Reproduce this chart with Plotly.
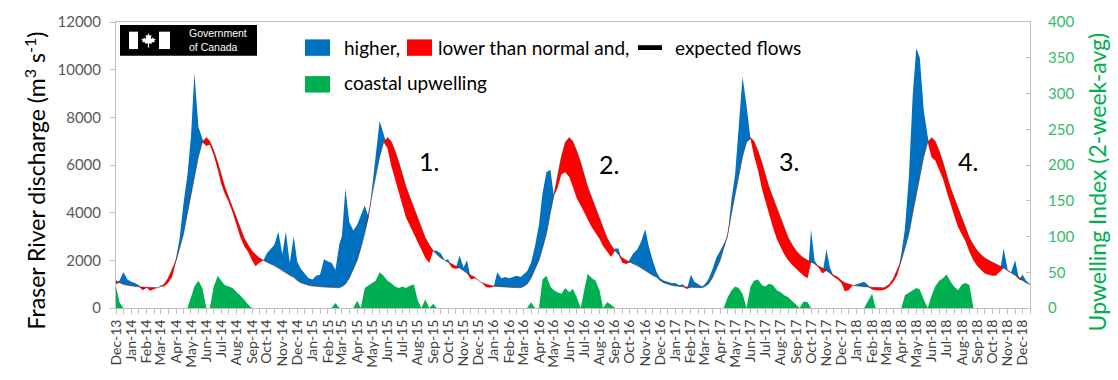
import pandas as pd
import plotly.graph_objects as go

# ---------------- DATA ----------------
SAMPLE_DAYS = [1, 8, 16, 24]          # samples taken on these days of every month
FIRST_MONTH = "2013-12-01"
LAST_DATE = "2018-12-16"

# Expected (normal) discharge, m3/s, at days 1, 8, 16, 24 of each calendar month Jan..Dec
EXPECTED_CYCLE = [
    [920, 900, 890, 880],      # Jan
    [870, 860, 850, 850],      # Feb
    [900, 1000, 1250, 1600],   # Mar
    [2000, 2500, 3100, 4000],  # Apr
    [4800, 5600, 6350, 6950],  # May
    [7150, 7000, 6600, 6100],  # Jun
    [5550, 5100, 4650, 4200],  # Jul
    [3750, 3350, 2950, 2650],  # Aug
    [2400, 2250, 2100, 2000],  # Sep
    [1920, 1860, 1780, 1680],  # Oct
    [1560, 1460, 1370, 1290],  # Nov
    [1150, 1060, 990, 950],    # Dec
]

# Observed Fraser River discharge, m3/s (days 1, 8, 16, 24 of each month, Dec-13 .. Dec-18)
DISCHARGE = [
    1000, 1150, 1500, 1200,   # Dec-13
    1100, 1050, 950, 750,     # Jan-14
    850, 720, 800, 850,       # Feb-14
    950, 900, 1050, 1300,     # Mar-14
    2100, 2900, 4400, 5600,   # Apr-14
    7200, 9850, 7600, 7100,   # May-14
    6800, 6850, 6400, 5800,   # Jun-14
    5200, 4800, 4450, 4000,   # Jul-14
    3500, 3000, 2600, 2350,   # Aug-14
    2000, 1750, 1900, 2000,   # Sep-14
    2300, 2450, 2650, 3200,   # Oct-14
    2250, 3200, 1900, 3000,   # Nov-14
    1950, 1650, 1450, 1250,   # Dec-14
    1200, 1350, 1400, 2050,   # Jan-15
    1950, 1900, 1600, 2700,   # Feb-15
    3000, 5000, 3600, 3250,   # Mar-15
    3500, 3900, 4300, 3800,   # Apr-15
    5100, 6200, 7850, 7300,   # May-15
    6700, 6000, 5400, 4800,   # Jun-15
    4300, 3800, 3450, 3100,   # Jul-15
    2800, 2500, 2100, 1900,   # Aug-15
    2400, 2400, 2300, 2000,   # Sep-15
    2050, 1700, 1650, 2200,   # Oct-15
    1700, 2000, 1200, 1250,   # Nov-15
    1150, 1050, 880, 850,     # Dec-15
    900, 1500, 1250, 1300,    # Jan-16
    1250, 1300, 1350, 1300,   # Feb-16
    1420, 1540, 1900, 2600,   # Mar-16
    3500, 4800, 5700, 5800,   # Apr-16
    4700, 5000, 5600, 5700,   # May-16
    5500, 5100, 4600, 4300,   # Jun-16
    4000, 3750, 3400, 3150,   # Jul-16
    2900, 2600, 2350, 2150,   # Aug-16
    2500, 2500, 1900, 1850,   # Sep-16
    2050, 2300, 2450, 2800,   # Oct-16
    3300, 2600, 2000, 1500,   # Nov-16
    1250, 1150, 1100, 1050,   # Dec-16
    1050, 950, 1000, 800,     # Jan-17
    1400, 1100, 1000, 900,    # Feb-17
    1000, 1200, 1600, 2100,   # Mar-17
    2400, 2700, 3000, 4600,   # Apr-17
    5600, 7500, 9700, 8500,   # May-17
    7100, 6400, 5800, 5000,   # Jun-17
    4500, 3900, 3400, 2900,   # Jul-17
    2550, 2250, 2000, 1800,   # Aug-17
    1650, 1500, 1350, 1250,   # Sep-17
    3300, 2000, 1700, 1450,   # Oct-17
    2450, 1700, 1300, 1200,   # Nov-17
    1050, 700, 750, 950,      # Dec-17
    1000, 1050, 1100, 950,    # Jan-18
    780, 740, 730, 760,       # Feb-18
    800, 900, 1100, 1400,     # Mar-18
    2300, 3300, 5500, 9000,   # Apr-18
    10900, 10500, 8300, 7200, # May-18
    6300, 6200, 5800, 5400,   # Jun-18
    4900, 4400, 3900, 3400,   # Jul-18
    3050, 2800, 2350, 2000,   # Aug-18
    1750, 1600, 1450, 1400,   # Sep-18
    1350, 1350, 1500, 2500,   # Oct-18
    1600, 1500, 2000, 1200,   # Nov-18
    1400, 1150, 1000,         # Dec-18
]

# Coastal upwelling index (2-week average), same sample dates
UPWELLING = [
    30, 8, 0, 0,      # Dec-13
    0, 0, 0, 0,       # Jan-14
    0, 0, 0, 0,       # Feb-14
    0, 0, 0, 0,       # Mar-14
    0, 0, 0, 0,       # Apr-14
    15, 30, 38, 28,   # May-14
    0, 0, 30, 45,     # Jun-14
    38, 32, 30, 28,   # Jul-14
    22, 18, 12, 5,    # Aug-14
    0, 0, 0, 0,       # Sep-14
    0, 0, 0, 0,       # Oct-14
    0, 0, 0, 0,       # Nov-14
    0, 0, 0, 0,       # Dec-14
    0, 0, 0, 0,       # Jan-15
    0, 0, 7, 0,       # Feb-15
    0, 0, 0, 0,       # Mar-15
    10, 0, 28, 32,    # Apr-15
    35, 38, 50, 45,   # May-15
    38, 35, 30, 28,   # Jun-15
    30, 28, 31, 33,   # Jul-15
    10, 0, 12, 0,     # Aug-15
    6, 0, 0, 0,       # Sep-15
    0, 0, 0, 0,       # Oct-15
    0, 0, 0, 0,       # Nov-15
    0, 0, 0, 0,       # Dec-15
    0, 0, 0, 0,       # Jan-16
    0, 0, 0, 0,       # Feb-16
    0, 0, 8, 0,       # Mar-16
    0, 40, 45, 30,    # Apr-16
    25, 22, 20, 28,   # May-16
    22, 27, 15, 0,    # Jun-16
    25, 48, 42, 38,   # Jul-16
    25, 0, 8, 5,      # Aug-16
    0, 0, 0, 0,       # Sep-16
    0, 0, 0, 0,       # Oct-16
    0, 0, 0, 0,       # Nov-16
    0, 0, 0, 0,       # Dec-16
    0, 0, 0, 0,       # Jan-17
    0, 0, 0, 0,       # Feb-17
    0, 0, 0, 0,       # Mar-17
    0, 0, 15, 25,     # Apr-17
    30, 28, 20, 0,    # May-17
    30, 38, 40, 32,   # Jun-17
    30, 34, 32, 25,   # Jul-17
    22, 18, 15, 10,   # Aug-17
    5, 0, 9, 8,       # Sep-17
    0, 0, 0, 0,       # Oct-17
    0, 0, 0, 0,       # Nov-17
    0, 0, 0, 0,       # Dec-17
    0, 0, 0, 10,      # Jan-18
    20, 0, 0, 0,      # Feb-18
    0, 0, 0, 0,       # Mar-18
    0, 18, 22, 25,    # Apr-18
    28, 26, 12, 0,    # May-18
    18, 30, 38, 42,   # Jun-18
    47, 38, 30, 25,   # Jul-18
    33, 35, 32, 0,    # Aug-18
    0, 0, 0, 0,       # Sep-18
    0, 0, 0, 0,       # Oct-18
    0, 0, 0, 0,       # Nov-18
    0, 0, 0,          # Dec-18
]

LEFT_TICKS = [0, 2000, 4000, 6000, 8000, 10000, 12000]
RIGHT_TICKS = [0, 50, 100, 150, 200, 250, 300, 350, 400]
EVENT_LABELS = [("1.", "2015-08-24", 6150), ("2.", "2016-08-21", 6050),
                ("3.", "2017-08-18", 6150), ("4.", "2018-08-14", 6150)]

# ---------------- BUILD ----------------
month_starts = pd.date_range(FIRST_MONTH, LAST_DATE, freq="MS")
month_labels = [d.strftime("%b-%y") for d in month_starts]
mid_months = [d + pd.Timedelta(days=15) for d in month_starts]

dates = []
for ms in month_starts:
    for d in SAMPLE_DAYS:
        t = ms + pd.Timedelta(days=d - 1)
        if t <= pd.Timestamp(LAST_DATE):
            dates.append(t)
assert len(dates) == len(DISCHARGE) == len(UPWELLING), (len(dates), len(DISCHARGE), len(UPWELLING))

expected = [EXPECTED_CYCLE[t.month - 1][SAMPLE_DAYS.index(t.day)] for t in dates]
lower_env = [min(a, e) for a, e in zip(DISCHARGE, expected)]

BLUE, RED, GREEN = "#0070C0", "#FF0000", "#00B050"
AXIS_GREY = "#BFBFBF"

fig = go.Figure()
fig.add_trace(go.Scatter(x=dates, y=DISCHARGE, mode="lines", fill="tozeroy",
                         fillcolor=BLUE, line=dict(width=0, color=BLUE), hoverinfo="skip"))
fig.add_trace(go.Scatter(x=dates, y=expected, mode="lines", fill="tozeroy",
                         fillcolor=RED, line=dict(width=0, color=RED), hoverinfo="skip"))
fig.add_trace(go.Scatter(x=dates, y=lower_env, mode="lines", fill="tozeroy",
                         fillcolor="white", line=dict(width=0, color="white"), hoverinfo="skip"))
fig.add_trace(go.Scatter(x=dates, y=expected, mode="lines",
                         line=dict(width=0.7, color="rgba(50,50,50,0.7)"), hoverinfo="skip"))
fig.add_trace(go.Scatter(x=dates, y=UPWELLING, mode="lines", fill="tozeroy", yaxis="y2",
                         fillcolor=GREEN, line=dict(width=0, color=GREEN), hoverinfo="skip"))

L, T, W, H = 116, 17, 914, 296


def px_x(px):
    return (px - L) / W


def px_y(py):
    return (T + H - py) / H


FONT = "Lato"
shapes = []
annotations = []

# legend swatches
shapes.append(dict(type="rect", xref="paper", yref="paper", x0=px_x(305), x1=px_x(330),
                   y0=px_y(52), y1=px_y(35), fillcolor=BLUE, line=dict(width=0)))
shapes.append(dict(type="rect", xref="paper", yref="paper", x0=px_x(407), x1=px_x(432),
                   y0=px_y(52), y1=px_y(35), fillcolor=RED, line=dict(width=0)))
shapes.append(dict(type="rect", xref="paper", yref="paper", x0=px_x(638), x1=px_x(662),
                   y0=px_y(46), y1=px_y(41), fillcolor="black", line=dict(width=0)))
shapes.append(dict(type="rect", xref="paper", yref="paper", x0=px_x(305), x1=px_x(330),
                   y0=px_y(90), y1=px_y(73), fillcolor=GREEN, line=dict(width=0)))
for txt, px, py in [("higher,", 342, 43), ("lower than normal and,", 436, 43),
                    ("expected flows", 673, 43), ("coastal upwelling", 342, 80)]:
    annotations.append(dict(text=txt, xref="paper", yref="paper", x=px_x(px), y=px_y(py),
                            xanchor="left", yanchor="middle", showarrow=False,
                            font=dict(family=FONT, size=19, color="black")))

# Government of Canada logo
shapes.append(dict(type="rect", xref="paper", yref="paper", x0=px_x(120), x1=px_x(257),
                   y0=px_y(52), y1=px_y(20), fillcolor="black", line=dict(width=0)))
shapes.append(dict(type="rect", xref="paper", yref="paper", x0=px_x(129), x1=px_x(138),
                   y0=px_y(45), y1=px_y(27), fillcolor="white", line=dict(width=0)))
shapes.append(dict(type="rect", xref="paper", yref="paper", x0=px_x(159), x1=px_x(170),
                   y0=px_y(45), y1=px_y(27), fillcolor="white", line=dict(width=0)))
leaf = [(0, -0.5), (0.08, -0.32), (0.2, -0.38), (0.15, -0.1), (0.35, -0.22), (0.3, -0.12),
        (0.48, -0.08), (0.38, 0.05), (0.42, 0.12), (0.2, 0.14), (0.22, 0.25), (0.04, 0.2),
        (0.04, 0.5), (-0.04, 0.5), (-0.04, 0.2), (-0.22, 0.25), (-0.2, 0.14), (-0.42, 0.12),
        (-0.38, 0.05), (-0.48, -0.08), (-0.3, -0.12), (-0.35, -0.22), (-0.15, -0.1),
        (-0.2, -0.38), (-0.08, -0.32)]
cx, cy, sz = 148.5, 36, 15
path = "M " + " L ".join(f"{px_x(cx + lx * sz):.5f},{px_y(cy + ly * sz):.5f}" for lx, ly in leaf) + " Z"
shapes.append(dict(type="path", xref="paper", yref="paper", path=path,
                   fillcolor="white", line=dict(width=0)))
annotations.append(dict(text="Government<br>of Canada", xref="paper", yref="paper",
                        x=px_x(187), y=px_y(36), xanchor="left", yanchor="middle",
                        align="left", showarrow=False,
                        font=dict(family="Liberation Sans", size=10.5, color="white")))

# event numbers
for txt, xd, yv in EVENT_LABELS:
    annotations.append(dict(text=txt, x=xd, y=yv, xref="x", yref="y", showarrow=False,
                            xanchor="center", yanchor="middle",
                            font=dict(family=FONT, size=25, color="black")))

# axis titles
annotations.append(dict(text="Fraser River discharge (m<sup>3</sup> s<sup>-1</sup>)",
                        xref="paper", yref="paper", x=px_x(35), y=px_y(181), textangle=-90,
                        showarrow=False, xanchor="center", yanchor="middle",
                        font=dict(family=FONT, size=23, color="black")))
annotations.append(dict(text="Upwelling Index (2-week-avg)",
                        xref="paper", yref="paper", x=px_x(1097), y=px_y(183), textangle=-90,
                        showarrow=False, xanchor="center", yanchor="middle",
                        font=dict(family=FONT, size=23, color=GREEN)))

fig.update_layout(
    width=1118, height=380,
    margin=dict(l=L, r=1118 - L - W, t=T, b=380 - T - H),
    paper_bgcolor="white", plot_bgcolor="white",
    showlegend=False,
    shapes=shapes, annotations=annotations,
    xaxis=dict(type="date", range=[FIRST_MONTH, LAST_DATE],
               tickmode="array", tickvals=list(month_starts), ticktext=month_labels,
               tickangle=-90, ticks="outside", ticklen=5, tickcolor=AXIS_GREY,
               showline=True, linecolor=AXIS_GREY, linewidth=1, mirror=True,
               showgrid=False, zeroline=False,
               tickfont=dict(family=FONT, size=14, color="#404040"),
               minor=dict(tickmode="array", tickvals=mid_months, ticks="outside", ticklen=5,
                          tickcolor=AXIS_GREY, showgrid=False)),
    yaxis=dict(range=[0, 12000], tickmode="array", tickvals=LEFT_TICKS,
               ticktext=[str(v) for v in LEFT_TICKS],
               ticks="outside", ticklen=5, tickcolor=AXIS_GREY,
               showline=True, linecolor=AXIS_GREY, linewidth=1,
               showgrid=False, zeroline=False, ticklabelstandoff=6,
               tickfont=dict(family=FONT, size=15, color="#595959")),
    yaxis2=dict(range=[0, 400], overlaying="y", side="right", tickmode="array",
                tickvals=RIGHT_TICKS, ticktext=[str(v) for v in RIGHT_TICKS],
                ticks="inside", ticklen=4, tickcolor=AXIS_GREY,
                showline=True, linecolor=AXIS_GREY, linewidth=1,
                showgrid=False, zeroline=False, ticklabelstandoff=14,
                tickfont=dict(family=FONT, size=15, color="#33BB6A")),
)

fig.write_html("out.html")
